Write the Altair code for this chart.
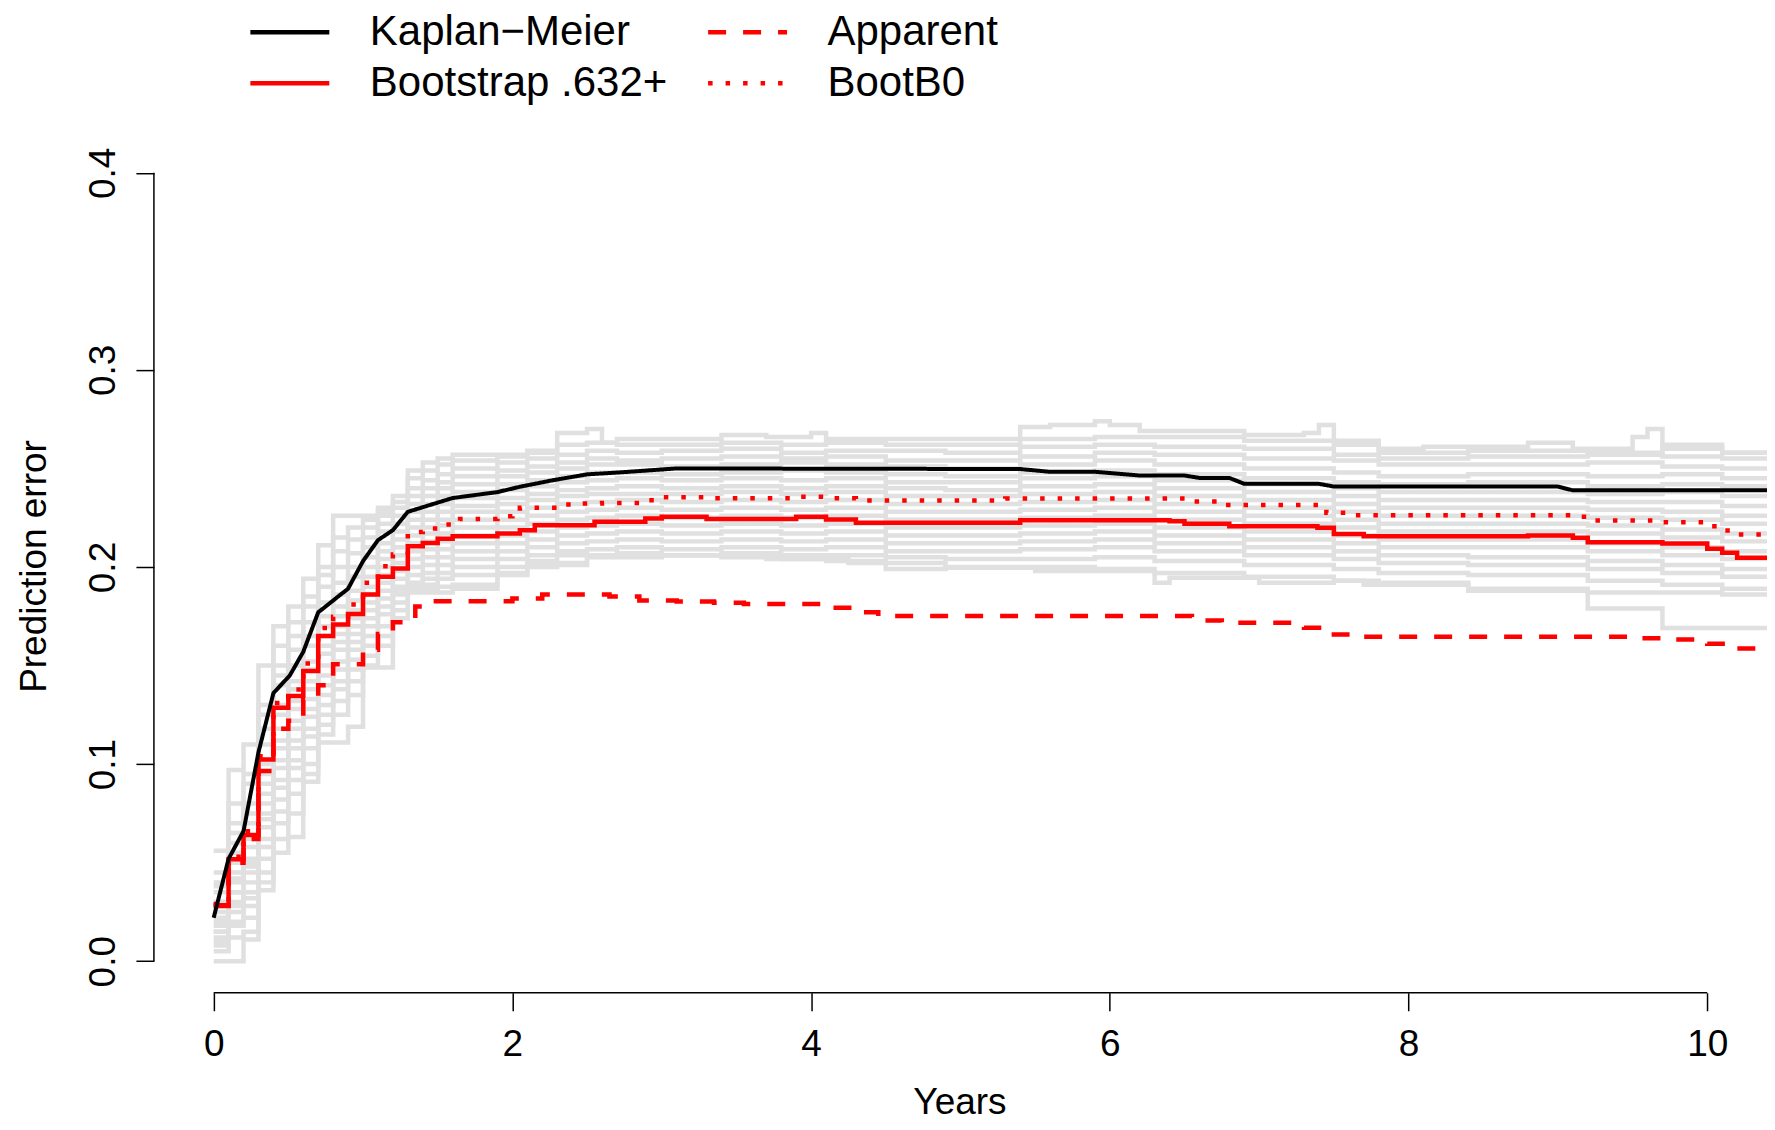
import altair as alt
import pandas as pd

FONT = "Liberation Sans"

# ---- axes -----------------------------------------------------------------
x_ticks = [0, 2, 4, 6, 8, 10]
y_ticks = [0.0, 0.1, 0.2, 0.3, 0.4]
x_domain = [-0.4, 10.4]
y_domain = [-0.016, 0.416]

# ---- main curves ------------------------------------------------------------
km_t = [0, 0.1, 0.2, 0.3, 0.4, 0.51, 0.6, 0.7, 0.9, 1.0,
        1.1, 1.2, 1.3, 1.6, 1.9, 2.05, 2.27, 2.5, 2.72, 3.1,
        5.4, 5.6, 5.9, 6.2, 6.5, 6.6, 6.8, 6.9, 7.4, 7.5,
        9.0, 9.1, 10.41]
km_v = [0.022, 0.052, 0.066, 0.106, 0.136, 0.145, 0.157, 0.177, 0.189, 0.203,
        0.2136, 0.2187, 0.228, 0.235, 0.238, 0.2407, 0.244, 0.247, 0.248, 0.250,
        0.2497, 0.2483, 0.2483, 0.2464, 0.2464, 0.2452, 0.2452, 0.2422, 0.2422, 0.2408,
        0.2408, 0.2389, 0.2389]

b632_t = [0, 0.1, 0.2, 0.3, 0.4, 0.5, 0.6, 0.7, 0.8, 0.9,
          1.0, 1.1, 1.2, 1.3, 1.4, 1.5, 1.6,
          1.9, 2.05, 2.15, 2.55, 2.89, 3.0, 3.3, 3.9, 4.1, 4.3,
          5.4, 6.4, 6.5, 6.8, 7.39, 7.5, 7.7, 8.8, 9.1, 9.2,
          9.7, 10.0, 10.1, 10.2, 10.41]
b632_v = [0.0284, 0.0517, 0.064, 0.1024, 0.1286, 0.1345, 0.1472, 0.165, 0.1708, 0.1762,
          0.186, 0.195, 0.1992, 0.2105, 0.2122, 0.2143, 0.2156,
          0.217, 0.2187, 0.2212, 0.2229, 0.2246, 0.2255, 0.2244, 0.2255, 0.2241, 0.2224,
          0.2237, 0.2232, 0.2219, 0.2207, 0.2199, 0.2168, 0.2156, 0.2160, 0.2148, 0.2126,
          0.2119, 0.2092, 0.2072, 0.2047, 0.2047]

b0_t = [0, 0.1, 0.2, 0.3, 0.4, 0.5, 0.6, 0.7, 0.8, 0.9,
        1.0, 1.1, 1.15, 1.2, 1.3, 1.4, 1.5, 1.6, 1.65, 1.9,
        2.0, 2.05, 2.3, 2.4, 2.6, 2.85, 2.95, 3.3, 3.9, 4.1,
        4.3, 5.3, 6.55, 6.7, 7.45, 7.6, 9.1, 9.2, 9.7, 10.0,
        10.1, 10.17, 10.41]
b0_v = [0.029, 0.053, 0.066, 0.104, 0.131, 0.1379, 0.151, 0.169, 0.1747, 0.181,
        0.192, 0.1974, 0.2016, 0.2063, 0.2177, 0.2195, 0.2215, 0.2232, 0.2244, 0.2257,
        0.2274, 0.230, 0.2317, 0.2322, 0.2325, 0.2339, 0.2354, 0.2349, 0.2357, 0.2349,
        0.2337, 0.2347, 0.2332, 0.2314, 0.2275, 0.2263, 0.2255, 0.2236, 0.2227, 0.2207,
        0.2185, 0.2165, 0.2165]

app_t = [0, 0.1, 0.2, 0.3, 0.4, 0.5, 0.6, 0.7, 0.8, 1.0,
         1.1, 1.2, 1.35, 1.45, 2.0, 2.2, 2.65, 2.85, 3.1, 3.35,
         3.55, 4.1, 4.3, 4.45, 6.55, 6.75, 7.3, 7.5, 7.65, 9.5,
         9.7, 10.0, 10.15, 10.41]
app_v = [0.028, 0.050, 0.062, 0.0965, 0.118, 0.122, 0.1328, 0.140, 0.1506, 0.158,
         0.166, 0.172, 0.180, 0.1826, 0.184, 0.186, 0.185, 0.183, 0.1825, 0.1819,
         0.1812, 0.1793, 0.177, 0.1751, 0.1728, 0.1717, 0.1692, 0.1658, 0.1646, 0.1638,
         0.1632, 0.161, 0.1587, 0.1587]

# ---- grey bootstrap curves --------------------------------------------------
grey_top_t = [0, 0.1, 0.2, 0.3, 0.4, 0.5, 0.6, 0.7, 0.8,
              1.1, 1.2, 1.3, 1.4, 1.5, 1.6,
              2.1, 2.3, 2.5, 2.6, 2.7,
              3.4, 3.7, 4.0, 4.1,
              5.4, 5.6, 5.9, 6.0, 6.2,
              6.9, 7.3, 7.4, 7.5, 7.8,
              8.1, 8.8, 9.1, 9.5, 9.6, 9.7,
              10.1, 10.41]
grey_top_v = [0.056, 0.097, 0.110, 0.150, 0.170, 0.180, 0.194, 0.211, 0.226,
              0.230, 0.236, 0.249, 0.253, 0.255, 0.257,
              0.259, 0.268, 0.270, 0.263, 0.265,
              0.267, 0.266, 0.268, 0.265,
              0.271, 0.272, 0.274, 0.272, 0.269,
              0.267, 0.268, 0.272, 0.264, 0.260,
              0.261, 0.263, 0.260, 0.266, 0.270, 0.260,
              0.258, 0.258]

grey_low_t = [0, 0.2, 0.3, 0.4, 0.5, 0.6, 0.7, 0.9, 1.0, 1.2,
              1.6, 1.9, 2.1, 2.5, 2.9, 3.7, 4.25, 4.5, 4.9, 5.5,
              6.3, 6.4, 7.0, 7.5, 7.7, 8.4, 9.2, 9.7, 10.41]
grey_low_v = [0.000, 0.011, 0.036, 0.055, 0.063, 0.091, 0.111, 0.119, 0.149, 0.187,
              0.189, 0.196, 0.201, 0.2055, 0.206, 0.204, 0.202, 0.199, 0.1996, 0.198,
              0.192, 0.1945, 0.192, 0.193, 0.191, 0.188, 0.179, 0.169, 0.169]

grey_t = [0, 0.1, 0.2, 0.3, 0.4, 0.5, 0.6, 0.7, 0.8, 0.9,
          1.0, 1.1, 1.2, 1.3, 1.4, 1.5, 1.6, 1.9, 2.1, 2.3,
          2.5, 2.7, 3.0, 3.4, 3.8, 4.1, 4.5, 4.9, 5.4, 5.9,
          6.3, 6.9, 7.5, 7.8, 8.4, 9.2, 9.7, 10.1, 10.41]
grey_curves = [
    [0.045, 0.080, 0.095, 0.130, 0.160, 0.172, 0.185, 0.200, 0.215, 0.220,
     0.224, 0.228, 0.233, 0.245, 0.249, 0.252, 0.254, 0.256, 0.258, 0.262,
     0.263, 0.262, 0.262, 0.263, 0.262, 0.263, 0.262, 0.262, 0.265, 0.266,
     0.266, 0.264, 0.262, 0.258, 0.259, 0.258, 0.262, 0.258, 0.258],
    [0.038, 0.070, 0.090, 0.125, 0.150, 0.165, 0.180, 0.196, 0.208, 0.214,
     0.220, 0.226, 0.230, 0.240, 0.244, 0.247, 0.250, 0.253, 0.255, 0.257,
     0.259, 0.258, 0.259, 0.260, 0.258, 0.259, 0.259, 0.258, 0.261, 0.262,
     0.261, 0.260, 0.257, 0.255, 0.256, 0.257, 0.256, 0.255, 0.255],
    [0.030, 0.060, 0.080, 0.118, 0.145, 0.158, 0.172, 0.190, 0.200, 0.207,
     0.215, 0.222, 0.226, 0.236, 0.240, 0.243, 0.246, 0.249, 0.251, 0.253,
     0.255, 0.254, 0.255, 0.256, 0.255, 0.256, 0.254, 0.254, 0.256, 0.258,
     0.257, 0.255, 0.254, 0.252, 0.252, 0.253, 0.251, 0.250, 0.250],
    [0.040, 0.065, 0.075, 0.110, 0.140, 0.150, 0.165, 0.182, 0.192, 0.200,
     0.210, 0.218, 0.222, 0.232, 0.236, 0.240, 0.242, 0.246, 0.248, 0.250,
     0.252, 0.252, 0.251, 0.252, 0.253, 0.252, 0.251, 0.250, 0.252, 0.254,
     0.252, 0.250, 0.248, 0.246, 0.247, 0.246, 0.247, 0.245, 0.245],
    [0.025, 0.050, 0.070, 0.100, 0.130, 0.142, 0.160, 0.175, 0.186, 0.195,
     0.205, 0.212, 0.218, 0.228, 0.232, 0.236, 0.238, 0.242, 0.244, 0.246,
     0.248, 0.248, 0.247, 0.248, 0.249, 0.248, 0.247, 0.246, 0.248, 0.249,
     0.247, 0.245, 0.243, 0.242, 0.243, 0.241, 0.242, 0.241, 0.241],
    [0.035, 0.055, 0.062, 0.095, 0.125, 0.138, 0.152, 0.170, 0.180, 0.188,
     0.200, 0.208, 0.214, 0.224, 0.228, 0.232, 0.235, 0.239, 0.241, 0.243,
     0.244, 0.245, 0.244, 0.245, 0.244, 0.245, 0.243, 0.243, 0.245, 0.246,
     0.244, 0.242, 0.240, 0.238, 0.238, 0.237, 0.238, 0.236, 0.236],
    [0.020, 0.045, 0.058, 0.090, 0.118, 0.132, 0.148, 0.165, 0.175, 0.183,
     0.195, 0.204, 0.210, 0.220, 0.224, 0.228, 0.231, 0.235, 0.237, 0.239,
     0.240, 0.241, 0.240, 0.241, 0.240, 0.241, 0.240, 0.239, 0.241, 0.242,
     0.240, 0.238, 0.236, 0.234, 0.234, 0.233, 0.233, 0.231, 0.231],
    [0.030, 0.040, 0.052, 0.085, 0.112, 0.128, 0.142, 0.160, 0.170, 0.178,
     0.190, 0.200, 0.206, 0.216, 0.220, 0.224, 0.228, 0.232, 0.234, 0.236,
     0.237, 0.237, 0.237, 0.238, 0.237, 0.238, 0.236, 0.236, 0.237, 0.238,
     0.236, 0.234, 0.232, 0.230, 0.230, 0.229, 0.228, 0.226, 0.226],
    [0.015, 0.042, 0.050, 0.080, 0.108, 0.122, 0.138, 0.156, 0.166, 0.174,
     0.186, 0.196, 0.202, 0.212, 0.217, 0.221, 0.224, 0.228, 0.230, 0.232,
     0.233, 0.234, 0.233, 0.234, 0.233, 0.234, 0.232, 0.232, 0.233, 0.234,
     0.232, 0.230, 0.228, 0.226, 0.226, 0.225, 0.224, 0.222, 0.222],
    [0.028, 0.035, 0.048, 0.075, 0.102, 0.118, 0.133, 0.150, 0.162, 0.170,
     0.182, 0.192, 0.198, 0.208, 0.213, 0.217, 0.220, 0.224, 0.226, 0.228,
     0.229, 0.230, 0.229, 0.230, 0.229, 0.230, 0.228, 0.228, 0.229, 0.230,
     0.228, 0.226, 0.224, 0.222, 0.222, 0.221, 0.219, 0.217, 0.217],
    [0.012, 0.035, 0.045, 0.072, 0.098, 0.112, 0.128, 0.145, 0.158, 0.166,
     0.178, 0.188, 0.194, 0.204, 0.209, 0.213, 0.216, 0.220, 0.222, 0.224,
     0.225, 0.226, 0.225, 0.226, 0.225, 0.226, 0.224, 0.224, 0.225, 0.226,
     0.224, 0.222, 0.220, 0.218, 0.218, 0.217, 0.215, 0.213, 0.213],
    [0.022, 0.030, 0.040, 0.068, 0.092, 0.108, 0.124, 0.140, 0.152, 0.162,
     0.174, 0.184, 0.190, 0.200, 0.205, 0.209, 0.212, 0.216, 0.218, 0.220,
     0.221, 0.222, 0.221, 0.222, 0.221, 0.222, 0.220, 0.220, 0.221, 0.222,
     0.220, 0.218, 0.216, 0.214, 0.214, 0.212, 0.210, 0.208, 0.208],
    [0.010, 0.028, 0.035, 0.062, 0.088, 0.102, 0.118, 0.135, 0.148, 0.158,
     0.170, 0.180, 0.186, 0.196, 0.201, 0.205, 0.208, 0.212, 0.214, 0.216,
     0.217, 0.218, 0.217, 0.218, 0.217, 0.218, 0.216, 0.216, 0.217, 0.218,
     0.216, 0.214, 0.212, 0.210, 0.210, 0.208, 0.206, 0.204, 0.204],
    [0.018, 0.025, 0.032, 0.058, 0.082, 0.098, 0.114, 0.130, 0.142, 0.153,
     0.165, 0.176, 0.182, 0.192, 0.197, 0.201, 0.204, 0.208, 0.210, 0.212,
     0.213, 0.214, 0.213, 0.214, 0.213, 0.214, 0.212, 0.212, 0.213, 0.214,
     0.212, 0.210, 0.208, 0.206, 0.205, 0.203, 0.201, 0.199, 0.199],
    [0.008, 0.020, 0.028, 0.052, 0.076, 0.092, 0.108, 0.125, 0.138, 0.148,
     0.160, 0.170, 0.178, 0.190, 0.194, 0.197, 0.200, 0.204, 0.206, 0.208,
     0.209, 0.210, 0.209, 0.210, 0.209, 0.210, 0.208, 0.208, 0.209, 0.210,
     0.208, 0.206, 0.204, 0.202, 0.201, 0.199, 0.197, 0.195, 0.195],
    [0.015, 0.018, 0.022, 0.045, 0.070, 0.085, 0.100, 0.120, 0.132, 0.142,
     0.155, 0.165, 0.174, 0.188, 0.191, 0.194, 0.196, 0.200, 0.203, 0.206,
     0.206, 0.207, 0.206, 0.207, 0.206, 0.206, 0.205, 0.204, 0.204, 0.205,
     0.203, 0.201, 0.199, 0.197, 0.196, 0.193, 0.191, 0.189, 0.189],
    [0.005, 0.012, 0.015, 0.040, 0.062, 0.075, 0.095, 0.115, 0.125, 0.135,
     0.150, 0.160, 0.188, 0.189, 0.189, 0.190, 0.191, 0.197, 0.200, 0.202,
     0.205, 0.205, 0.206, 0.205, 0.204, 0.203, 0.202, 0.200, 0.200, 0.199,
     0.197, 0.195, 0.193, 0.192, 0.189, 0.187, 0.187, 0.186, 0.186],
]

# ---- legend / series (column-major order: col 1 then col 2) ---------------
series_names = ["Kaplan\u2212Meier", "Bootstrap .632+", "Apparent", "BootB0"]
series_colors = ["#000000", "#FF0000", "#FF0000", "#FF0000"]
series_dash = [[1, 0], [1, 0], [18, 17], [4.5, 13]]

# ---- build tables -------------------------------------------------------------
grey_rows = []
for t, v in zip(grey_top_t, grey_top_v):
    grey_rows.append({"t": t, "v": v, "curve": "top"})
for t, v in zip(grey_low_t, grey_low_v):
    grey_rows.append({"t": t, "v": v, "curve": "low"})
for i, vals in enumerate(grey_curves):
    for t, v in zip(grey_t, vals):
        grey_rows.append({"t": t, "v": v, "curve": f"c{i}"})
grey_df = pd.DataFrame(grey_rows)

km_df = pd.DataFrame({"t": km_t, "v": km_v, "series": series_names[0]})
step_rows = []
for name, ts, vs in [(series_names[2], app_t, app_v),
                     (series_names[3], b0_t, b0_v),
                     (series_names[1], b632_t, b632_v)]:
    for t, v in zip(ts, vs):
        step_rows.append({"t": t, "v": v, "series": name})
step_df = pd.DataFrame(step_rows)

# ---- encodings ----------------------------------------------------------------
x_enc = alt.X(
    "t:Q",
    scale=alt.Scale(domain=x_domain, nice=False, zero=False),
    axis=alt.Axis(
        values=x_ticks, format="d", title="Years", domain=False, grid=False,
        tickSize=18, tickWidth=1.5, tickColor="black",
        labelFont=FONT, labelFontSize=37, labelColor="black", labelPadding=16,
        labelFlush=False, labelOverlap=False,
        titleFont=FONT, titleFontSize=37, titleFontWeight="normal", titleColor="black",
        titleX=806, titleY=121, titleAlign="center", titleBaseline="alphabetic",
    ),
)
y_enc = alt.Y(
    "v:Q",
    scale=alt.Scale(domain=y_domain, nice=False, zero=False),
    axis=alt.Axis(
        values=y_ticks, format=".1f", title="Prediction error", domain=False, grid=False,
        tickSize=18, tickWidth=1.5, tickColor="black",
        labelFont=FONT, labelFontSize=37, labelColor="black", labelPadding=21,
        labelAngle=270, labelAlign="center", labelBaseline="alphabetic",
        labelFlush=False, labelOverlap=False,
        titleFont=FONT, titleFontSize=37, titleFontWeight="normal", titleColor="black",
        titleAngle=270, titleX=-108, titleY=425, titleAlign="center",
        titleBaseline="alphabetic",
    ),
)

legend = alt.Legend(
    title=None, orient="none", legendX=94, legendY=-134, columns=2,
    symbolType="stroke", symbolSize=6241, symbolStrokeWidth=4.5,
    clipHeight=50, rowPadding=1, columnPadding=38,
    labelFont=FONT, labelFontSize=42, labelColor="black", labelOffset=38,
    labelLimit=0, padding=0,
)
color_enc = alt.Color("series:N", scale=alt.Scale(domain=series_names, range=series_colors),
                      legend=legend)
dash_enc = alt.StrokeDash("series:N", scale=alt.Scale(domain=series_names, range=series_dash),
                          legend=legend)

grey = alt.Chart(grey_df).mark_line(
    interpolate="step-after", color="#E0E0E0", strokeWidth=4.5, clip=True
).encode(x=x_enc, y=y_enc, detail="curve:N")

axis_df = pd.DataFrame({"k": [0]})
x_line = alt.Chart(axis_df).mark_rule(color="black", strokeWidth=1.5).encode(
    x=alt.datum(x_ticks[0]), x2=alt.datum(x_ticks[-1]), y=alt.datum(y_domain[0]))
y_line = alt.Chart(axis_df).mark_rule(color="black", strokeWidth=1.5).encode(
    x=alt.datum(x_domain[0]), y=alt.datum(y_ticks[0]), y2=alt.datum(y_ticks[-1]))

steps = alt.Chart(step_df).mark_line(
    interpolate="step-after", strokeWidth=4.5, clip=True
).encode(x=x_enc, y=y_enc, color=color_enc, strokeDash=dash_enc, detail="series:N")

km = alt.Chart(km_df).mark_line(
    interpolate="linear", strokeWidth=4, clip=True, strokeJoin="round"
).encode(x=x_enc, y=y_enc, color=color_enc, strokeDash=dash_enc)

chart = alt.layer(grey, x_line, y_line, steps, km).properties(
    width=1614, height=852,
    autosize=alt.AutoSizeParams(type="none"),
    padding={"left": 146, "top": 133, "right": 0, "bottom": 129},
    background="white",
).configure_view(stroke=None)

chart.save("out.html", embed_options={"renderer": "svg", "actions": False})
